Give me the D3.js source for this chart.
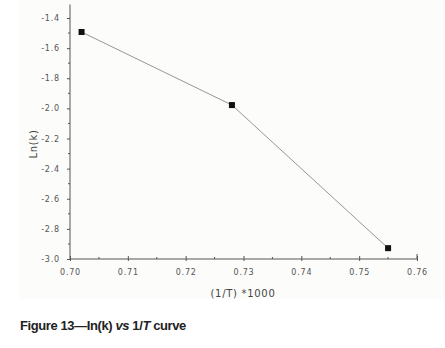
<!DOCTYPE html>
<html lang="en">
<head>
  <meta charset="UTF-8">
  <title>Figure 13 - ln(k) vs 1/T</title>
  <script src="https://d3js.org/d3.v7.min.js"></script>
  <style>
    body { margin: 0; background: #fff; font-family: "DejaVu Sans", sans-serif; }
    .axis path, .axis line { stroke: #555; }
    .axis text { fill: #555; font-size: 8px; letter-spacing: 0.8px; font-family: "DejaVu Sans", sans-serif; }
    .axis-label { fill: #444; font-size: 10px; letter-spacing: 0.7px; }
    .caption { font-family: "Liberation Sans", Arial, sans-serif; font-size: 13px; font-weight: bold; fill: #222; letter-spacing: -0.4px; }
  </style>
</head>
<body>
<div id="chart"></div>
<script>
  const invT = [0.702, 0.728, 0.755];
  const lnK = [-1.493, -1.978, -2.928];
  const xTicks = [0.70, 0.71, 0.72, 0.73, 0.74, 0.75, 0.76];
  const yTicks = [-3.0, -2.8, -2.6, -2.4, -2.2, -2.0, -1.8, -1.6, -1.4];

  const svgWidth = 445, svgHeight = 348;

  const x = d3.scaleLinear().domain([0.70, 0.76]).range([70, 417]);
  const y = d3.scaleLinear().domain([-3.0, -1.4]).range([259, 18]);

  const svg = d3.select("#chart").append("svg")
    .attr("width", svgWidth)
    .attr("height", svgHeight);

  // faint panel behind the plot
  svg.append("rect")
    .attr("x", 18).attr("y", 0)
    .attr("width", svgWidth - 18).attr("height", 299)
    .attr("fill", "#fcfcfa");

  // x axis
  const xAxis = svg.append("g")
    .attr("class", "axis")
    .attr("transform", `translate(0,${y(-3.0)})`)
    .call(d3.axisBottom(x).tickValues(xTicks).tickFormat(d3.format(".2f")).tickSize(4).tickPadding(6));
  xAxis.select(".domain").attr("d", `M${x(0.70)},0H${x(0.76)}V-5`);
  xAxis.selectAll(".tick line").attr("y1", -3).attr("y2", 2);
  xAxis.selectAll(".minor")
    .data(d3.range(0.705, 0.76, 0.01))
    .enter().append("line")
    .attr("x1", d => x(d)).attr("x2", d => x(d))
    .attr("y1", -2).attr("y2", 0)
    .attr("stroke", "#555");

  // y axis
  const yAxis = svg.append("g")
    .attr("class", "axis")
    .attr("transform", `translate(${x(0.70)},0)`)
    .call(d3.axisLeft(y).tickValues(yTicks).tickFormat(d3.format(".1f")).tickSize(3).tickPadding(7));
  yAxis.select(".domain").attr("d", `M0,${y(-3.0)}V${y(-1.31)}`);
  yAxis.selectAll(".tick text").text(d => d3.format(".1f")(d).replace("−", "-"));
  yAxis.selectAll(".minor")
    .data(d3.range(-2.9, -1.3, 0.2))
    .enter().append("line")
    .attr("x1", -2).attr("x2", 0)
    .attr("y1", d => y(d)).attr("y2", d => y(d))
    .attr("stroke", "#555");

  // line and markers
  const pts = invT.map((v, i) => ({ x: v, y: lnK[i] }));
  svg.append("path")
    .datum(pts)
    .attr("fill", "none")
    .attr("stroke", "#8a8a8a")
    .attr("stroke-width", 0.9)
    .attr("d", d3.line().x(d => x(d.x)).y(d => y(d.y)));

  svg.selectAll(".pt")
    .data(pts)
    .enter().append("rect")
    .attr("x", d => x(d.x) - 3)
    .attr("y", d => y(d.y) - 3)
    .attr("width", 6).attr("height", 6)
    .attr("fill", "#111");

  // axis titles
  svg.append("text")
    .attr("class", "axis-label")
    .attr("x", 243).attr("y", 297)
    .attr("text-anchor", "middle")
    .text("(1/T) *1000");

  svg.append("text")
    .attr("class", "axis-label")
    .attr("transform", "translate(37,144) rotate(-90)")
    .attr("text-anchor", "middle")
    .text("Ln(k)");

  // caption
  const cap = svg.append("text")
    .attr("class", "caption")
    .attr("x", 20).attr("y", 330);
  cap.append("tspan").text("Figure 13\u2014In(k) ");
  cap.append("tspan").attr("font-style", "italic").text("vs");
  cap.append("tspan").text(" 1/");
  cap.append("tspan").attr("font-style", "italic").text("T");
  cap.append("tspan").text(" curve");
</script>
</body>
</html>
